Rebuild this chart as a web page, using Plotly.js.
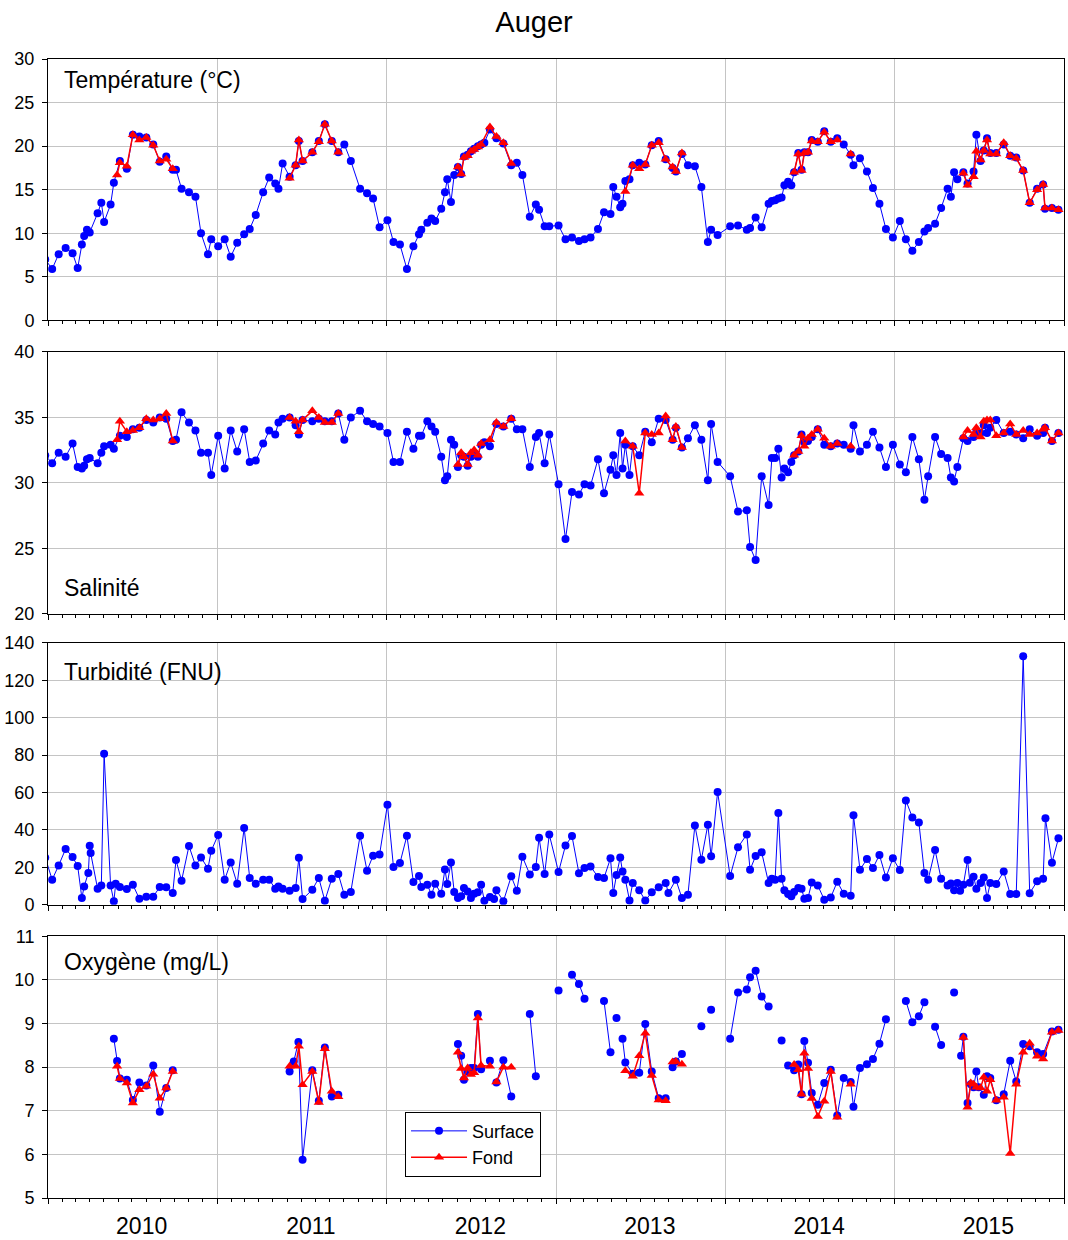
<!DOCTYPE html>
<html><head><meta charset="utf-8">
<script src="https://cdn.plot.ly/plotly-3.0.1.min.js"></script>
<style>html,body{margin:0;padding:0;background:#fff}#chart{width:1068px;height:1240px}</style>
</head><body><div id="chart"></div>
<script>
// ---------- DATA ----------
const surfDates = [
'2009-12-26','2010-01-10','2010-01-24','2010-02-08','2010-02-23','2010-03-06','2010-03-15','2010-03-20','2010-03-26','2010-04-01',
'2010-04-18','2010-04-26','2010-05-02','2010-05-16','2010-05-23','2010-06-05','2010-06-20','2010-07-03','2010-07-17','2010-08-01',
'2010-08-16','2010-08-30','2010-09-13','2010-09-27','2010-10-04','2010-10-16','2010-11-01','2010-11-15','2010-11-27','2010-12-12',
'2010-12-19',
'2011-01-03','2011-01-17','2011-01-30','2011-02-13','2011-02-28','2011-03-12','2011-03-25','2011-04-10','2011-04-23','2011-05-06',
'2011-05-13','2011-05-22','2011-06-06','2011-06-19','2011-06-26','2011-07-04','2011-07-25','2011-08-08','2011-08-21','2011-09-05',
'2011-09-19','2011-10-02','2011-10-16','2011-11-05','2011-11-20','2011-12-03','2011-12-17',
'2012-01-03','2012-01-16','2012-01-30','2012-02-14','2012-02-28','2012-03-11','2012-03-16','2012-03-29','2012-04-07','2012-04-15',
'2012-04-28','2012-05-06','2012-05-11','2012-05-19','2012-05-26','2012-06-03','2012-06-10','2012-06-16','2012-06-24','2012-07-01',
'2012-07-08','2012-07-16','2012-07-23','2012-07-30','2012-08-11','2012-08-25','2012-09-09','2012-09-26','2012-10-08','2012-10-20',
'2012-11-05','2012-11-18','2012-11-25','2012-12-07','2012-12-17',
'2013-01-06','2013-01-21','2013-02-04','2013-02-19','2013-03-03','2013-03-16','2013-04-01','2013-04-14','2013-04-28','2013-05-04',
'2013-05-11','2013-05-19','2013-05-24','2013-05-30','2013-06-08','2013-06-15','2013-06-29','2013-07-12','2013-07-26','2013-08-10',
'2013-08-25','2013-09-09','2013-09-16','2013-09-29','2013-10-12','2013-10-27','2013-11-10','2013-11-24','2013-12-01','2013-12-15',
'2014-01-11','2014-01-28','2014-02-16','2014-02-23','2014-03-07','2014-03-20','2014-04-04','2014-04-11','2014-04-18','2014-04-25',
'2014-05-02','2014-05-08','2014-05-16','2014-05-23','2014-05-29','2014-06-07','2014-06-14','2014-06-20','2014-06-28','2014-07-06',
'2014-07-19','2014-08-02','2014-08-16','2014-08-30','2014-09-13','2014-09-28','2014-10-04','2014-10-18','2014-11-02','2014-11-15',
'2014-11-29','2014-12-13','2014-12-28',
'2015-01-12','2015-01-25','2015-02-08','2015-02-22','2015-03-06','2015-03-14','2015-03-29','2015-04-11','2015-04-25','2015-05-02',
'2015-05-09','2015-05-16','2015-05-29','2015-06-07','2015-06-20','2015-06-26','2015-07-05','2015-07-12','2015-07-19','2015-07-26',
'2015-08-08','2015-08-24','2015-09-07','2015-09-20','2015-10-05','2015-10-19','2015-11-04','2015-11-17','2015-11-21','2015-12-06',
'2015-12-20'
];
const tempSurf = [
7.0,5.9,7.6,8.3,7.7,6.0,8.7,9.7,10.4,10.1, 12.3,13.5,11.3,13.3,15.8,18.3,17.4,21.3,21.1,21.0, 20.2,18.2,18.8,17.3,17.3,15.1,14.7,14.2,10.0,7.6, 9.3,
8.5,9.3,7.3,8.9,9.9,10.5,12.1,14.7,16.4,15.7, 15.1,18.0,16.5,17.8,20.6,18.3,19.3,20.6,22.5,20.6, 19.3,20.2,18.3,15.1,14.6,14.0,10.7,
11.5,9.0,8.7,5.9,8.5,9.9,10.4,11.2,11.7,11.4, 12.8,14.7,16.2,13.6,16.7,17.6,16.8,18.8,19.0,19.4, 19.7,20.0,20.2,20.4,21.9,20.9,20.3,17.8,18.1,16.7, 11.9,13.3,12.7,10.8,10.8,
10.9,9.3,9.5,9.1,9.3,9.5,10.5,12.4,12.2,15.3, 14.2,13.0,13.4,16.0,16.2,17.8,18.1,17.9,20.1,20.6, 18.5,17.5,17.1,19.1,17.8,17.7,15.3,9.0,10.4,9.8,
10.8,10.9,10.4,10.6,11.8,10.7,13.4,13.7,13.8,14.0, 14.1,15.5,15.9,15.5,17.0,19.2,17.3,19.3,19.3,20.7, 20.5,21.7,20.5,20.9,20.2,19.0,17.8,18.6,17.1,15.2, 13.4,10.5,9.5,
11.4,9.3,8.0,9.0,10.2,10.6,11.1,12.9,15.1,14.2, 17.0,16.2,17.0,15.7,17.1,21.3,18.3,19.5,20.9,19.2, 19.2,20.2,18.9,18.7,17.2,13.5,15.1,15.6,12.8,12.9, 12.7
];
const salSurf = [
32.1,31.5,32.3,32.0,33.0,31.2,31.1,31.3,31.8,31.9, 31.5,32.3,32.8,32.9,32.6,33.6,33.5,34.1,34.2,34.8, 34.6,35.0,34.9,33.2,33.3,35.4,34.6,34.0,32.3,32.3, 30.6,
33.6,31.1,34.0,32.4,34.1,31.6,31.7,33.0,34.0,33.7, 34.6,34.9,35.0,34.4,33.7,34.8,34.7,34.9,34.7,34.7, 35.3,33.3,35.0,35.5,34.7,34.5,34.3,
33.8,31.6,31.6,33.9,32.6,33.6,33.6,34.7,34.3,33.9, 32.0,30.2,30.5,33.3,32.9,31.2,32.1,32.0,31.3,32.0, 32.3,32.0,32.9,33.1,32.8,34.5,34.3,34.9,34.1,34.1, 31.2,33.5,33.8,31.5,33.7,
29.9,25.7,29.3,29.1,29.9,29.8,31.8,29.2,31.0,32.1, 30.6,33.8,31.1,32.9,30.6,32.8,32.1,33.9,33.1,34.9, 34.8,33.3,34.2,32.7,33.4,34.4,33.3,30.2,34.5,31.6,
30.5,27.8,27.9,25.1,24.1,30.5,28.3,31.9,31.9,32.6, 30.4,31.1,30.8,31.6,32.1,32.4,33.7,33.1,33.2,33.5, 34.1,32.9,32.8,33.0,32.9,32.6,34.4,32.4,32.9,33.9, 32.7,31.2,32.9,
31.4,30.8,33.5,31.8,28.7,30.5,33.5,32.2,31.9,30.4, 30.1,31.2,33.4,33.2,33.5,33.9,33.8,34.4,33.8,34.2, 34.8,33.8,33.9,33.7,33.4,34.1,33.6,33.8,34.2,33.2, 33.8
];

const fondDates = [
'2010-05-30','2010-06-05','2010-06-20','2010-07-03','2010-07-17','2010-08-01','2010-08-16','2010-08-30','2010-09-13','2010-09-27','2010-10-04',
'2011-06-06','2011-06-19','2011-06-26','2011-07-04','2011-07-25','2011-08-08','2011-08-21','2011-09-05','2011-09-19','2011-10-02',
'2012-06-03','2012-06-10','2012-06-16','2012-06-24','2012-07-01','2012-07-08','2012-07-16','2012-07-23','2012-08-11','2012-08-25','2012-09-09','2012-09-26','2012-10-08',
'2013-05-30','2013-06-15','2013-06-29','2013-07-12','2013-07-26','2013-08-10','2013-08-25','2013-09-09','2013-09-16','2013-09-29','2013-10-12',
'2014-05-29','2014-06-07','2014-06-14','2014-06-20','2014-06-28','2014-07-06','2014-07-19','2014-08-02','2014-08-16','2014-08-30','2014-09-13','2014-09-28','2014-10-04',
'2015-05-29','2015-06-07','2015-06-20','2015-06-26','2015-07-05','2015-07-12','2015-07-19','2015-07-26','2015-08-08','2015-08-24','2015-09-07','2015-09-20','2015-10-05','2015-10-19','2015-11-04','2015-11-17','2015-11-21','2015-12-06','2015-12-20'
];
const tempFond = [
16.7,18.1,17.7,21.3,20.7,21.0,20.1,18.3,18.5,17.4,null,
16.3,17.8,20.7,18.3,19.3,20.5,22.5,20.6,19.3,null,
17.6,16.8,18.7,18.9,19.4,19.6,19.9,20.2,22.2,21.1,20.4,18.0,null,
14.8,17.8,17.4,17.9,20.1,20.4,18.5,17.6,17.1,19.2,null,
17.0,19.1,17.2,19.2,19.3,20.6,20.5,21.6,20.5,20.7,null,19.1,null,
16.9,15.5,16.5,19.4,18.4,19.5,20.7,19.1,19.1,20.4,18.9,18.6,17.2,13.5,15.0,15.6,12.9,12.9,12.7
];
const salFond = [
33.3,34.7,33.9,34.0,34.2,34.9,34.8,34.9,35.3,33.2,null,
35.0,34.7,33.9,34.8,35.5,35.0,34.6,34.6,35.3,null,
31.4,32.3,32.0,31.4,32.3,32.5,32.1,33.0,33.3,34.6,34.3,34.9,null,
33.2,32.8,29.2,33.8,33.7,33.8,35.1,33.3,34.3,32.7,null,
32.1,32.4,33.6,32.8,33.4,33.7,34.1,33.4,32.8,33.0,null,32.8,null,
33.5,34.0,33.7,34.2,33.5,34.7,34.8,34.8,33.6,33.8,34.5,33.7,34.0,33.7,33.8,34.1,34.2,33.2,33.8
];

const turbDates = [
'2009-12-26','2010-01-10','2010-01-24','2010-02-08','2010-02-23','2010-03-06','2010-03-15','2010-03-20','2010-03-29','2010-04-01',
'2010-04-03','2010-04-18','2010-04-26','2010-05-02','2010-05-16','2010-05-23','2010-05-27','2010-06-05','2010-06-20','2010-07-03',
'2010-07-17','2010-08-01','2010-08-16','2010-08-30','2010-09-13','2010-09-27','2010-10-04','2010-10-16','2010-11-01','2010-11-15',
'2010-11-27','2010-12-12','2010-12-19',
'2011-01-03','2011-01-17','2011-01-30','2011-02-13','2011-02-28','2011-03-12','2011-03-25','2011-04-10','2011-04-23','2011-05-06',
'2011-05-13','2011-05-22','2011-06-06','2011-06-19','2011-06-26','2011-07-04','2011-07-25','2011-08-08','2011-08-21','2011-09-05',
'2011-09-19','2011-10-02','2011-10-16','2011-11-05','2011-11-20','2011-12-03','2011-12-17',
'2012-01-03','2012-01-16','2012-01-30','2012-02-14','2012-02-28','2012-03-11','2012-03-16','2012-03-29','2012-04-07','2012-04-15',
'2012-04-28','2012-05-06','2012-05-11','2012-05-19','2012-05-26','2012-06-03','2012-06-10','2012-06-16','2012-06-24','2012-07-01',
'2012-07-08','2012-07-16','2012-07-23','2012-07-30','2012-08-11','2012-08-20','2012-08-25','2012-09-09','2012-09-26','2012-10-08',
'2012-10-20','2012-11-05','2012-11-18','2012-11-25','2012-12-07','2012-12-17',
'2013-01-06','2013-01-21','2013-02-04','2013-02-19','2013-03-03','2013-03-16','2013-04-01','2013-04-14','2013-04-28','2013-05-04',
'2013-05-11','2013-05-19','2013-05-24','2013-05-30','2013-06-08','2013-06-15','2013-06-29','2013-07-12','2013-07-26','2013-08-10',
'2013-08-25','2013-08-31','2013-09-16','2013-09-29','2013-10-12','2013-10-27','2013-11-10','2013-11-24','2013-12-01','2013-12-15',
'2014-01-11','2014-01-28','2014-02-16','2014-02-23','2014-03-07','2014-03-20','2014-04-04','2014-04-11','2014-04-18','2014-04-25',
'2014-05-02','2014-05-08','2014-05-16','2014-05-23','2014-05-29','2014-06-07','2014-06-14','2014-06-20','2014-06-28','2014-07-06',
'2014-07-19','2014-08-02','2014-08-16','2014-08-30','2014-09-13','2014-09-28','2014-10-04','2014-10-18','2014-11-02','2014-11-15',
'2014-11-29','2014-12-13','2014-12-28',
'2015-01-12','2015-01-25','2015-02-08','2015-02-22','2015-03-06','2015-03-14','2015-03-29','2015-04-11','2015-04-25','2015-05-02',
'2015-05-09','2015-05-16','2015-05-22','2015-05-29','2015-06-07','2015-06-12','2015-06-20','2015-06-26','2015-07-05','2015-07-12',
'2015-07-19','2015-07-26','2015-08-08','2015-08-24','2015-09-07','2015-09-20','2015-10-05','2015-10-19','2015-11-04','2015-11-17',
'2015-11-22','2015-12-06','2015-12-20'
];
const turbSurf = [
25.2,13.4,21.0,29.8,25.5,20.7,3.6,9.8,17.0,31.6, 27.6,8.5,10.3,80.8,10.3,1.8,11.2,9.5,8.4,10.7, 3.2,4.3,4.3,9.5,9.3,6.2,23.9,12.8,31.4,21.0, 25.3,19.3,28.9,
37.3,13.4,22.6,11.2,41.0,14.3,11.2,13.4,13.4,8.6, 9.8,8.6,7.5,8.9,25.1,3.0,8.0,14.3,2.1,13.9, 16.4,5.3,6.8,36.9,18.2,26.2,26.8,
53.5,20.2,22.3,36.9,12.1,15.3,9.5,10.7,5.3,11.2, 5.9,18.9,11.1,22.6,6.8,3.6,4.5,8.9,7.1,3.6, 5.9,6.6,10.7,2.1,4.1,3.0,7.8,1.8,15.2,7.5, 25.7,16.2,20.2,35.8,16.4,37.5,
17.5,31.7,36.7,16.8,19.6,20.5,14.8,14.3,24.8,6.2, 15.9,25.3,17.7,13.4,2.3,11.6,7.7,2.3,6.6,9.3, 11.6,6.2,13.4,3.6,5.3,42.4,24.1,42.8,25.9,60.3,
15.3,30.7,37.6,18.7,26.0,28.0,11.6,13.9,13.4,49.0, 13.9,7.7,5.7,4.5,6.8,8.9,8.6,3.2,3.6,11.9, 10.3,2.7,3.9,12.3,5.9,4.8,47.8,18.7,24.4,19.6, 26.6,14.6,24.8,
18.5,55.8,46.7,44.0,16.9,13.4,29.2,13.9,10.3,11.4, 7.8,11.6,7.5,10.7,23.9,11.8,15.0,8.6,11.6,14.6, 3.6,11.6,11.1,17.7,5.7,5.7,132.9,6.1,12.5,13.9, 46.2,22.5,35.5
];

const oxyDates = [
'2010-05-23','2010-05-30','2010-06-05','2010-06-20','2010-07-03','2010-07-17','2010-08-01','2010-08-16','2010-08-30','2010-09-13','2010-09-27','2010-10-04',
'2011-06-06','2011-06-15','2011-06-25','2011-07-04','2011-07-25','2011-08-08','2011-08-21','2011-09-05','2011-09-19','2011-10-02',
'2012-06-03','2012-06-10','2012-06-16','2012-06-24','2012-07-01','2012-07-08','2012-07-16','2012-07-23','2012-07-30','2012-08-11','2012-08-20',
'2012-08-25','2012-09-09','2012-09-26','2012-10-08','2012-11-05','2012-11-18','2012-12-07',
'2013-01-06','2013-01-21','2013-02-04','2013-02-19','2013-03-03','2013-04-01','2013-04-14','2013-04-28','2013-05-04','2013-05-11','2013-05-19',
'2013-05-24','2013-05-30','2013-06-15','2013-06-29','2013-07-12','2013-07-26','2013-08-10','2013-08-25','2013-08-31',
'2013-09-09','2013-09-16','2013-09-29','2013-10-12','2013-11-10','2013-11-24','2013-12-01','2013-12-15',
'2014-01-11','2014-01-28','2014-02-16','2014-02-23','2014-03-07','2014-03-20','2014-04-04','2014-04-18','2014-05-02','2014-05-08',
'2014-05-16','2014-05-29','2014-06-07','2014-06-14','2014-06-20','2014-06-28','2014-07-06','2014-07-19','2014-08-02','2014-08-16',
'2014-08-30','2014-09-13','2014-09-28','2014-10-04','2014-10-18','2014-11-02','2014-11-15','2014-11-29','2014-12-13','2014-12-28',
'2015-01-25','2015-02-08','2015-02-22','2015-03-06','2015-03-14','2015-03-29','2015-04-11','2015-04-25','2015-05-09','2015-05-16',
'2015-05-24','2015-05-29','2015-06-07','2015-06-14','2015-06-20','2015-06-26','2015-07-01','2015-07-12','2015-07-19','2015-07-26',
'2015-08-08','2015-08-24','2015-09-07','2015-09-20','2015-10-05','2015-10-19','2015-11-04','2015-11-17','2015-12-06','2015-12-20'
];
const oxySurf = [
8.65,8.14,7.74,7.71,7.25,7.65,7.58,8.04,6.98,7.52,7.93,null,
7.90,8.13,8.58,5.88,7.93,7.23,8.45,7.33,7.37,null,
8.53,8.26,7.71,7.90,7.98,7.98,9.22,7.95,null,8.15,null,
7.65,8.16,7.33,null,9.22,7.79,null,
9.76,null,10.12,9.91,9.57,null,9.52,8.34,null,9.13,null,
8.65,8.11,7.85,7.87,8.99,7.90,7.29,7.29,null,
8.00,8.13,8.30,null,8.94,null,9.32,null,
8.65,9.71,9.78,10.06,10.21,9.62,9.39,null,8.61,null,
8.04,7.93,8.06,7.38,8.60,8.10,7.41,7.14,7.64,7.94,
6.89,7.75,7.66,7.09,7.98,8.07,8.19,8.54,9.10,null,
9.52,9.03,9.17,9.49,null,8.93,8.51,null,9.71,null,
8.26,8.70,7.18,7.61,7.54,7.90,7.54,7.37,7.79,7.75,
7.24,7.38,8.15,7.67,8.53,8.48,8.34,8.30,8.82,8.86
];

const oxyFondDates = [
'2010-05-30','2010-06-05','2010-06-20','2010-07-03','2010-07-17','2010-08-01','2010-08-16','2010-08-30','2010-09-13','2010-09-27','2010-10-04',
'2011-06-06','2011-06-19','2011-06-26','2011-07-04','2011-07-25','2011-08-08','2011-08-21','2011-09-05','2011-09-19','2011-10-02',
'2012-06-03','2012-06-10','2012-06-16','2012-06-24','2012-07-01','2012-07-08','2012-07-16','2012-07-23','2012-08-11','2012-08-20',
'2012-08-25','2012-09-09','2012-09-26','2012-10-08',
'2013-05-30','2013-06-15','2013-06-29','2013-07-12','2013-07-26','2013-08-10','2013-08-25','2013-08-31','2013-09-09','2013-09-16','2013-09-29','2013-10-12',
'2014-05-29','2014-06-07','2014-06-14','2014-06-20','2014-06-28','2014-07-06','2014-07-19','2014-08-02','2014-08-16','2014-08-30','2014-09-13','2014-09-28','2014-10-04',
'2015-05-29','2015-06-07','2015-06-14','2015-06-20','2015-06-26','2015-07-05','2015-07-12','2015-07-19','2015-07-26','2015-08-08',
'2015-08-24','2015-09-07','2015-09-20','2015-10-05','2015-10-19','2015-11-04','2015-11-17','2015-12-06','2015-12-20'
];
const oxyFond = [
8.02,7.74,7.64,7.18,7.48,7.56,7.84,7.29,7.52,7.90,null,
8.02,8.02,8.48,7.60,7.90,7.19,8.42,7.45,7.32,null,
8.34,7.97,7.75,7.98,7.83,7.87,9.13,8.04,8.02,null,
7.66,8.00,8.00,null,
7.92,7.79,8.26,8.78,7.81,7.25,7.23,null,8.12,8.13,8.07,null,
8.06,7.94,7.38,8.32,7.97,7.28,6.87,7.22,7.90,6.85,null,7.61,null,
8.68,7.08,7.64,7.61,7.54,7.52,7.77,7.45,7.71,7.24,
7.31,6.02,7.61,8.34,8.55,8.25,8.19,8.80,8.84
];

const panelLabels = ['Température (°C)', 'Salinité', 'Turbidité (FNU)', 'Oxygène (mg/L)'];
const seriesNames = ['Surface', 'Fond'];
const chartTitle = 'Auger';

// ---------- STYLE ----------
const FONT = 'Liberation Sans, Arial, sans-serif';
const BLUE = '#0000ff', RED = '#ff0000';
const xRange = ['2010-01-01', '2016-01-01'];

function surf(x, y, xa, ya, legend) {
  return {x, y, xaxis: xa, yaxis: ya, type: 'scatter', mode: 'lines+markers', name: seriesNames[0],
    showlegend: legend, connectgaps: false, cliponaxis: true,
    line: {color: BLUE, width: 1}, marker: {symbol: 'circle', size: 8, color: BLUE}};
}
function fond(x, y, xa, ya, legend) {
  return {x, y, xaxis: xa, yaxis: ya, type: 'scatter', mode: 'lines+markers', name: seriesNames[1],
    showlegend: legend, connectgaps: false, cliponaxis: true,
    line: {color: RED, width: 1.5}, marker: {symbol: 'triangle-up', size: 9, color: RED}};
}

const traces = [
  surf(surfDates, tempSurf, 'x', 'y', false), fond(fondDates, tempFond, 'x', 'y', false),
  surf(surfDates, salSurf, 'x2', 'y2', false), fond(fondDates, salFond, 'x2', 'y2', false),
  surf(turbDates, turbSurf, 'x3', 'y3', false),
  surf(oxyDates, oxySurf, 'x4', 'y4', true), fond(oxyFondDates, oxyFond, 'x4', 'y4', true)
];

function xax(anchor, labels) {
  return {anchor, type: 'date', range: xRange, dtick: 'M12', tick0: '2010-01-01',
    showgrid: true, gridcolor: '#c4c4c4', gridwidth: 1, zeroline: false,
    showline: true, linecolor: '#000', linewidth: 1, mirror: true,
    ticks: 'outside', ticklen: 5, tickcolor: '#000', tickwidth: 1,
    minor: {ticks: 'outside', ticklen: 3, tickcolor: '#000', dtick: 'M1', tick0: '2010-01-01', showgrid: false},
    showticklabels: labels, tickformat: '%Y', ticklabelmode: 'period', ticklabelshift: 9, ticklabelstandoff: 2,
    tickfont: {family: FONT, size: 23, color: '#000'}, fixedrange: true};
}
function yax(anchor, domain, range, dtick) {
  return {anchor, domain, range, dtick, tick0: range[0],
    showgrid: true, gridcolor: '#c4c4c4', gridwidth: 1, zeroline: false,
    showline: true, linecolor: '#000', linewidth: 1, mirror: true,
    ticks: 'outside', ticklen: 5, tickcolor: '#000', ticklabelstandoff: 4,
    tickfont: {family: FONT, size: 18, color: '#000'}, fixedrange: true};
}

const ann = (xref, yref, y, yanchor, text) => ({xref, yref, x: 0.014, y, xanchor: 'left', yanchor,
  text, showarrow: false, font: {family: FONT, size: 23, color: '#000'}});

const layout = {
  width: 1068, height: 1240,
  margin: {l: 48, r: 4, t: 59, b: 42},
  paper_bgcolor: '#fff', plot_bgcolor: '#fff',
  font: {family: FONT, color: '#000'},
  title: {text: chartTitle, x: 0.5, xref: 'container', xanchor: 'center', y: 1 - 22/1240, yref: 'container', yanchor: 'middle',
    font: {family: FONT, size: 29, color: '#000'}},
  showlegend: true,
  legend: {x: 0.3514, y: 0.0758, xanchor: 'left', yanchor: 'top', bgcolor: '#fff', bordercolor: '#000', borderwidth: 1,
    itemwidth: 56, tracegroupgap: 0, font: {family: FONT, size: 18, color: '#000'}},
  xaxis: xax('y', false), xaxis2: xax('y2', false), xaxis3: xax('y3', false), xaxis4: xax('y4', true),
  yaxis: yax('x', [0.7705, 1], [0, 30], 5),
  yaxis2: yax('x2', [0.5130, 0.7428], [20, 40], 5),
  yaxis3: yax('x3', [0.2575, 0.4873], [0, 140], 20),
  yaxis4: yax('x4', [0, 0.2297], [5, 11], 1),
  annotations: [
    ann('x domain', 'y domain', 0.921, 'middle', panelLabels[0]),
    ann('x2 domain', 'y2 domain', 0.099, 'middle', panelLabels[1]),
    ann('x3 domain', 'y3 domain', 0.890, 'middle', panelLabels[2]),
    ann('x4 domain', 'y4 domain', 0.903, 'middle', panelLabels[3])
  ],
  hovermode: false
};

Plotly.newPlot('chart', traces, layout, {staticPlot: true, displayModeBar: false});
</script>
</body></html>
